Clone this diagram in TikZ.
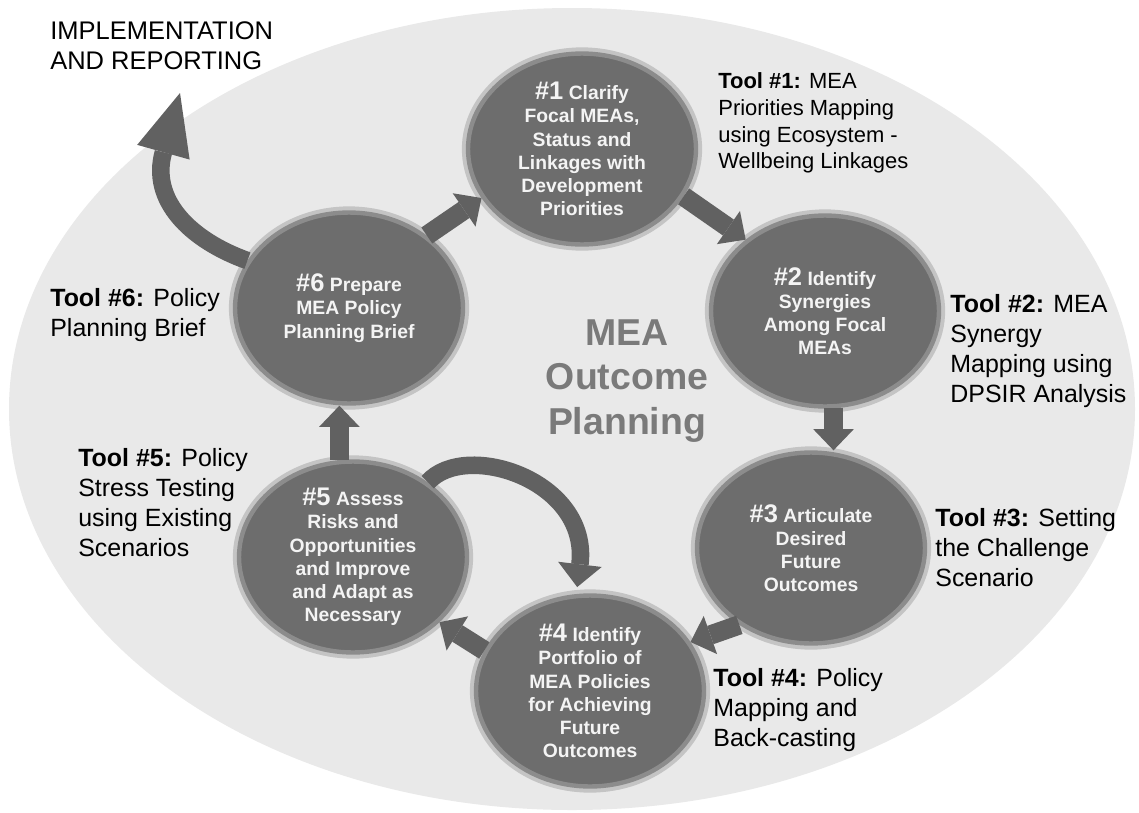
\documentclass[tikz,border=0pt]{standalone}
\usepackage{fontspec}
\setmainfont{Liberation Sans}
\usetikzlibrary{shapes.geometric,arrows.meta}
\definecolor{ringfill}{HTML}{E9E9E9}
\definecolor{stagefill}{HTML}{6D6D6D}
\definecolor{stageedge}{HTML}{8C8C8C}
\definecolor{stagehalo}{HTML}{C4C4C4}
\definecolor{flowgray}{HTML}{616161}
\definecolor{hubgray}{HTML}{7A7A7A}
\definecolor{stageink}{HTML}{F4F4F4}
\newcommand{\stagenum}[1]{{\fontsize{14.5}{13.2}\selectfont\##1}}

\begin{document}
\begin{tikzpicture}[x=0.02cm,y=-0.02cm]
\tikzstyle{stage}=[ellipse, fill=stagefill, draw=stageedge, line width=2.5pt, preaction={draw=stagehalo, line width=7pt}, minimum width=4.56cm, minimum height=3.82cm, inner sep=-3pt, text=stageink, align=center, font=\bfseries\fontsize{11}{13.2}\selectfont]
\tikzstyle{tool}=[anchor=north west, inner sep=0pt, align=left, font=\fontsize{14.2}{17}\selectfont]
\tikzstyle{hub}=[inner sep=0pt, align=center, text=hubgray, font=\bfseries\fontsize{21.3}{25.5}\selectfont]
\tikzstyle{flow}=[flowgray, line width=11pt, -{Triangle[width=23pt,length=12pt,line width=0pt]}]
\useasboundingbox (0,0) rectangle (1139,812);
\fill [white] (0,0) rectangle (1139,812);
\fill [ringfill] (572,409) ellipse [x radius=563, y radius=401];
\node [stage] (s1) at (582,149) {\stagenum{1} Clarify\\Focal MEAs,\\Status and\\Linkages with\\Development\\Priorities};
\node [stage] (s2) at (825,311) {\stagenum{2} Identify\\Synergies\\Among Focal\\MEAs};
\node [stage] (s3) at (811,548) {\stagenum{3} Articulate\\Desired\\Future\\Outcomes};
\node [stage] (s4) at (590,691) {\stagenum{4} Identify\\Portfolio of\\MEA Policies\\for Achieving\\Future\\Outcomes};
\node [stage] (s5) at (353,557) {\stagenum{5} Assess\\Risks and\\Opportunities\\and Improve\\and Adapt as\\Necessary};
\node [stage] (s6) at (349,308) {\stagenum{6} Prepare\\MEA Policy\\Planning Brief};
\node [hub] (hub) at (627,381) {MEA\\Outcome\\Planning};
\node [tool, font=\fontsize{12.5}{15.3}\selectfont] (t1) at (718,72) {\textbf{Tool \#1:} MEA\\Priorities Mapping\\using Ecosystem -\\Wellbeing Linkages};
\node [tool] (t2) at (950,294) {\textbf{Tool \#2:} MEA\\Synergy\\Mapping using\\DPSIR Analysis};
\node [tool] (t3) at (935,508) {\textbf{Tool \#3:} Setting\\the Challenge\\Scenario};
\node [tool] (t4) at (713,668) {\textbf{Tool \#4:} Policy\\Mapping and\\Back-casting};
\node [tool] (t5) at (78,448) {\textbf{Tool \#5:} Policy\\Stress Testing\\using Existing\\Scenarios};
\node [tool] (t6) at (50,288) {\textbf{Tool \#6:} Policy\\Planning Brief};
\node [tool, font=\fontsize{14.5}{17}\selectfont] (impl) at (50,21) {IMPLEMENTATION\\AND REPORTING};
\coordinate (implarrow) at (180,93);
\draw [flow] (s6.43) -- (s1.206);
\draw [flow] (s1.-25) -- (s2.138);
\draw [flow] (s2.-85) -- (s2.-85 |- s3.north);
\draw [flow] (s3.-133) -- (s4.26);
\draw [flow] (s4.159) -- (s5.-37);
\draw [flow] (s5.98) -- (s5.98 |- s6.south);
\draw [flow, line width=10pt, shorten >=4pt, -{Triangle[width=25pt,length=13pt,line width=0pt]}] (s5.45) .. controls (465,440) and (590,480) .. (s4.98);
\draw [flow, line width=10pt, -{Triangle[width=31pt,length=35pt,line width=0pt]}] (s6.155) .. controls (190,240) and (150,200) .. (implarrow);
\end{tikzpicture}
\end{document}
